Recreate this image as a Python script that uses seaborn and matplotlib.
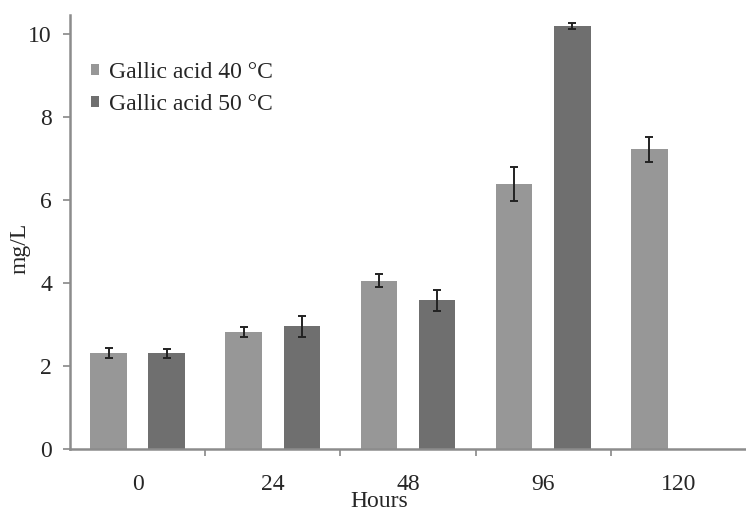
import numpy as np
import pandas as pd
import matplotlib
matplotlib.use("Agg")
import matplotlib.pyplot as plt
import seaborn as sns

hours = ["0", "24", "48", "96", "120"]
series = ["Gallic acid 40 °C", "Gallic acid 50 °C"]
values_40 = [2.30, 2.82, 4.05, 6.38, 7.22]
values_50 = [2.30, 2.95, 3.58, 10.18, np.nan]
err_40 = [0.12, 0.12, 0.16, 0.40, 0.30]
err_50 = [0.10, 0.26, 0.25, 0.07, np.nan]
colors = ["#979797", "#6f6f6f"]

sns.set_theme(style="white")
plt.rcParams['font.family'] = ['Liberation Serif', 'DejaVu Serif']

FS = 17

df = pd.DataFrame({
    "Hours": hours * 2,
    "value": values_40 + values_50,
    "err": err_40 + err_50,
    "series": [series[0]] * 5 + [series[1]] * 5,
})

fig = plt.figure(figsize=(7.46, 5.07), dpi=100)
ax = fig.add_axes([70 / 746, 58 / 507, 676 / 746, (449 - 15) / 507])

sns.barplot(data=df, x="Hours", y="value", hue="series", order=hours,
            hue_order=series, palette=colors, width=0.86, gap=0.37,
            errorbar=None, ax=ax, saturation=1, linewidth=0)

# error bars at bar centres
for i, s in enumerate(series):
    sub = df[df.series == s].set_index("Hours").loc[hours]
    off = (-0.215 if i == 0 else 0.215)
    xs = np.arange(len(hours)) + off
    ax.errorbar(xs, sub["value"], yerr=sub["err"], fmt="none", ecolor="#222222",
                elinewidth=1.4, capsize=3, capthick=1.4)

ax.set_xlim(-0.5, 4.5)
ax.set_ylim(0, 10.45)
ax.set_yticks([0, 2, 4, 6, 8, 10])
ax.set_yticklabels(["0", "2", "4", "6", "8", "10"], fontsize=FS)
ax.set_xticks(range(len(hours)))
ax.set_xticklabels(hours, fontsize=FS)
ax.tick_params(axis="x", length=0, pad=18)
ax.tick_params(axis="y", length=5, width=1.2, color="#888888", direction="out", left=True, pad=8)
ax.set_xticks([0.5, 1.5, 2.5, 3.5], minor=True)
ax.tick_params(axis="x", which="minor", length=5, width=1.2, color="#888888", direction="out", bottom=True)

for sp in ["top", "right"]:
    ax.spines[sp].set_visible(False)
for sp in ["left", "bottom"]:
    ax.spines[sp].set_color("#8c8c8c")
    ax.spines[sp].set_linewidth(1.8)

ax.set_xlabel("Hours", fontsize=FS)
ax.xaxis.set_label_coords(0.457, -0.096)
ax.set_ylabel("mg/L", fontsize=FS)
ax.yaxis.set_label_coords(-0.059, 0.463)

leg = ax.legend(loc="upper left", bbox_to_anchor=(0.0, 0.94), frameon=False,
                fontsize=FS, handlelength=0.32, handleheight=0.32, handletextpad=0.45,
                labelspacing=0.45, borderaxespad=0.5)

fig.savefig("out.png", dpi=100)
